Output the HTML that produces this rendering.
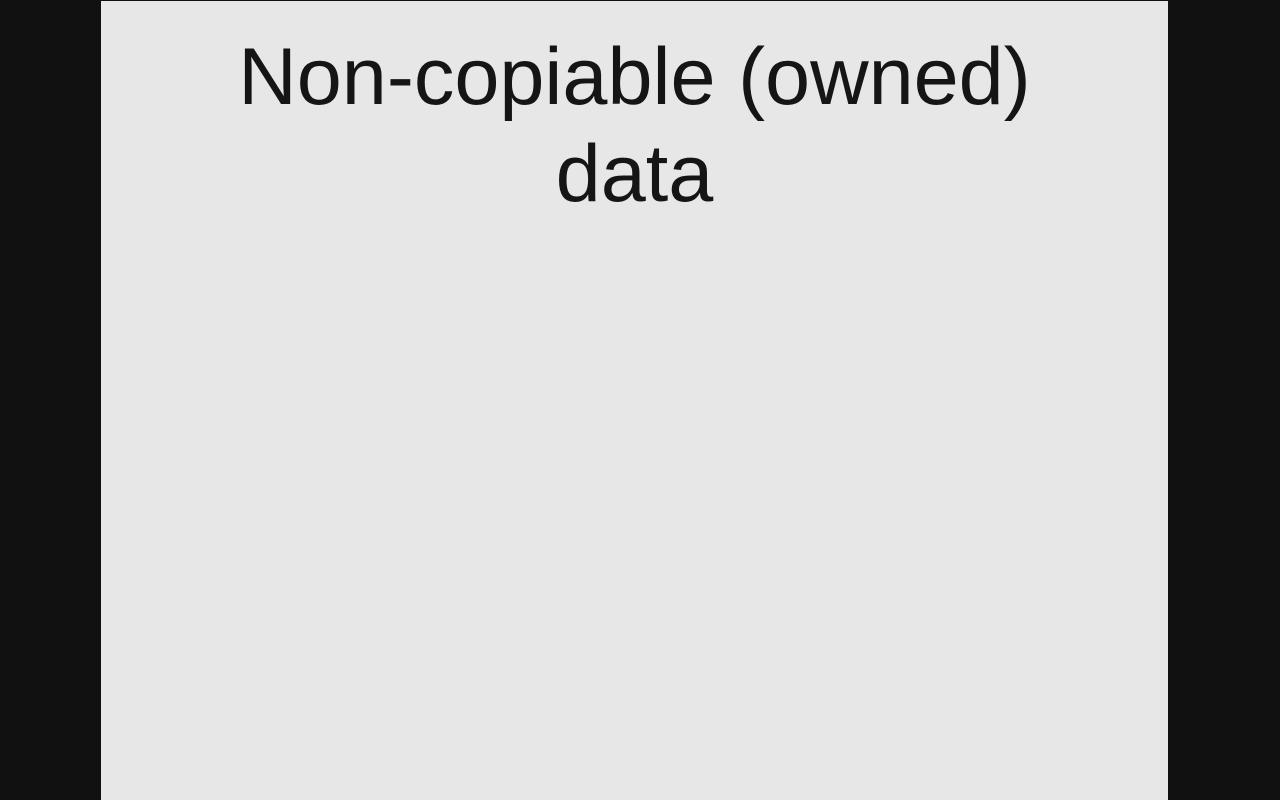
<!DOCTYPE html>
<html><head><meta charset="utf-8"><style>
html,body{margin:0;padding:0;width:1280px;height:800px;background:#111;overflow:hidden}
.panel{position:absolute;left:101px;top:1px;width:1067px;height:799px;background:#e6e7e6}
h1{position:absolute;left:0;top:28px;width:100%;margin:0;text-align:center;font-family:"Liberation Sans",sans-serif;font-weight:normal;font-size:81px;line-height:97px;color:#151515}
</style></head><body>
<div class="panel"><h1>Non-copiable (owned)<br>data</h1></div>
</body></html>
